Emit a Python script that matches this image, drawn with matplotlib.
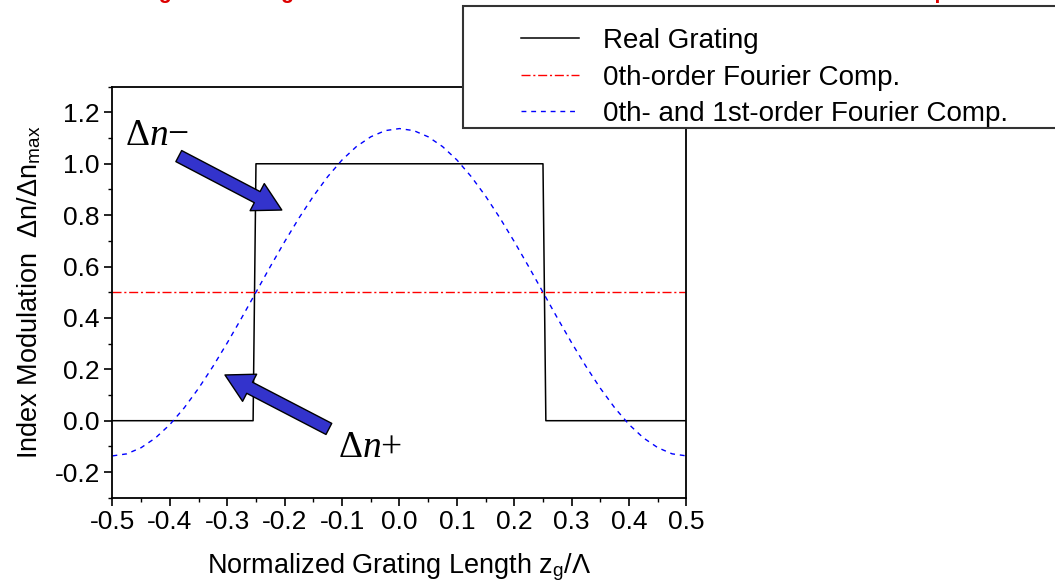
import matplotlib
matplotlib.use("Agg")
import matplotlib.pyplot as plt
from matplotlib.patches import FancyArrowPatch, Rectangle
from matplotlib.ticker import MultipleLocator

plt.rcParams["font.family"] = ["Liberation Sans", "DejaVu Sans"]
plt.rcParams["mathtext.fontset"] = "custom"
plt.rcParams["mathtext.rm"] = "Liberation Serif"
plt.rcParams["mathtext.it"] = "Liberation Serif:italic"
plt.rcParams["mathtext.sf"] = "Liberation Sans"

# Real (rectangular) grating profile over one period
grating_z = [-0.5, -0.255, -0.25, 0.25, 0.255, 0.5]
grating_dn = [0.0, 0.0, 1.0, 1.0, 0.0, 0.0]

# 0th-order Fourier component (mean index)
dc_z = [-0.5, 0.5]
dc_dn = [0.5, 0.5]

# 0th- plus 1st-order Fourier components
fourier_z = [-0.5, -0.475, -0.45, -0.425, -0.4, -0.375, -0.35, -0.325, -0.3,
             -0.275, -0.25, -0.225, -0.2, -0.175, -0.15, -0.125, -0.1, -0.075,
             -0.05, -0.025, 0.0, 0.025, 0.05, 0.075, 0.1, 0.125, 0.15, 0.175,
             0.2, 0.225, 0.25, 0.275, 0.3, 0.325, 0.35, 0.375, 0.4, 0.425,
             0.45, 0.475, 0.5]
fourier_dn = [-0.137, -0.129, -0.105, -0.067, -0.015, 0.050, 0.126, 0.211,
              0.303, 0.400, 0.500, 0.600, 0.697, 0.789, 0.874, 0.950, 1.015,
              1.067, 1.105, 1.129, 1.137, 1.129, 1.105, 1.067, 1.015, 0.950,
              0.874, 0.789, 0.697, 0.600, 0.500, 0.400, 0.303, 0.211, 0.126,
              0.050, -0.015, -0.067, -0.105, -0.129, -0.137]

series_labels = ["Real Grating", "0th-order Fourier Comp.",
                 "0th- and 1st-order Fourier Comp."]

x_ticks = [-0.5, -0.4, -0.3, -0.2, -0.1, 0.0, 0.1, 0.2, 0.3, 0.4, 0.5]
y_ticks = [-0.2, 0.0, 0.2, 0.4, 0.6, 0.8, 1.0, 1.2]

fig = plt.figure(figsize=(10.55, 5.87), dpi=100)
ax = fig.add_axes([0.1066, 0.1520, 0.5441, 0.7003])

l1, = ax.plot(grating_z, grating_dn, color="black", lw=1.1)
l2, = ax.plot(dc_z, dc_dn, color="#FF0000", lw=1.0, dashes=(6.5, 2, 1.5, 2))
l3, = ax.plot(fourier_z, fourier_dn, color="#0000FF", lw=1.0, dashes=(3.5, 3.5))

ax.set_xlim(-0.5, 0.5)
ax.set_ylim(-0.3, 1.3)
ax.set_xticks(x_ticks)
ax.set_xticklabels([f"{v:.1f}" for v in x_ticks])
ax.set_yticks(y_ticks)
ax.set_yticklabels([f"{v:.1f}" for v in y_ticks])
ax.xaxis.set_minor_locator(MultipleLocator(0.05))
ax.yaxis.set_minor_locator(MultipleLocator(0.1))
ax.tick_params(which="major", direction="out", length=5.5, width=1.2,
               labelsize=19, top=False, right=False, pad=3.5)
ax.tick_params(which="minor", direction="out", length=3.2, width=1.0,
               top=False, right=False)
for s in ax.spines.values():
    s.set_linewidth(1.3)

ax.set_xlabel("Normalized Grating Length z" + r"$_{\mathsf{g}}$" + "/Λ",
              fontsize=19.5, labelpad=12)
ax.set_ylabel("Index Modulation  Δn/Δn" + r"$_{\mathsf{max}}$",
              fontsize=19.5, labelpad=8)

# Arrows pointing at the positive/negative index steps
arrow_color = "#3333CC"
for tail, tip in [((-0.3845, 1.030), (-0.205, 0.820)),
                  ((-0.123, -0.032), (-0.304, 0.178))]:
    ax.add_patch(FancyArrowPatch(
        tail, tip, arrowstyle="simple,head_width=1.1,head_length=1.0,tail_width=0.45",
        mutation_scale=20, fc=arrow_color, ec="black", lw=1.0,
        shrinkA=0, shrinkB=0, zorder=5))

serif = ["Liberation Serif", "DejaVu Serif"]
ax.text(-0.478, 1.075, "Δ$n$−", fontsize=27, family=serif, ha="left",
        va="baseline")
ax.text(-0.107, -0.14, "Δ$n$+", fontsize=27, family=serif, ha="left",
        va="baseline")

# Title, sitting above the top edge of the figure
fig.text(0.0823, 1.0026,
         "Rectangular Grating Modulation and the Normalized Real Fourier Harmonic Decomposition",
         color="#DD0000", fontsize=15.5, fontweight="bold", ha="left",
         va="baseline")

# Legend box
fig.add_artist(Rectangle((463 / 1055, 1 - 128 / 587), 620 / 1055, 122 / 587,
                         transform=fig.transFigure, fc="white", ec="#333333",
                         lw=1.5, zorder=3))
fig.legend([l1, l2, l3], series_labels, loc="upper left",
           bbox_to_anchor=(521 / 1055, 1 - 28 / 587), frameon=False,
           fontsize=20, handlelength=2.1, handletextpad=0.84, labelspacing=0.38,
           borderpad=0.0, borderaxespad=0.0).set_zorder(4)

fig.savefig("out.png", dpi=100)
